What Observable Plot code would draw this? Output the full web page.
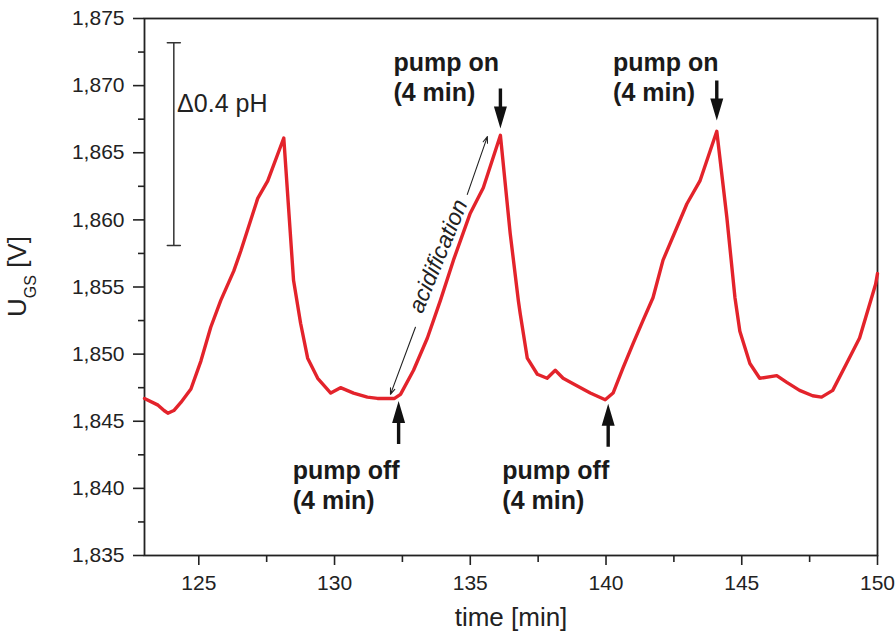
<!DOCTYPE html>
<html><head><meta charset="utf-8">
<script src="https://cdn.jsdelivr.net/npm/d3@7"></script>
<script src="https://cdn.jsdelivr.net/npm/@observablehq/plot@0.6"></script>
<style>
body{margin:0;background:#fff;}
#chart svg{display:block;}
</style></head><body><div id="chart"></div>
<script>
// measured signal
const time = [123.00,123.50,123.72,123.86,124.08,124.34,124.71,125.08,125.44,125.81,126.29,126.55,127.17,127.54,128.13,128.49,128.75,129.01,129.38,129.86,130.22,130.70,131.21,131.58,132.06,132.21,132.43,132.91,133.42,133.90,134.38,135.00,135.48,136.11,136.47,136.77,136.84,137.10,137.47,137.83,138.13,138.42,138.79,139.42,139.97,140.26,140.63,141.00,141.36,141.73,142.10,142.98,143.46,144.08,144.45,144.75,144.93,145.30,145.66,146.29,146.66,147.13,147.61,147.94,148.35,148.86,149.34,149.93,150.00];
const ugs = [1.8467,1.8462,1.8458,1.8456,1.8458,1.8464,1.8474,1.8495,1.8520,1.8540,1.8562,1.8577,1.8616,1.8629,1.8661,1.8555,1.8523,1.8497,1.8482,1.8471,1.8475,1.8471,1.8468,1.8467,1.8467,1.8467,1.8470,1.8488,1.8512,1.8540,1.8570,1.8605,1.8624,1.8663,1.8590,1.8540,1.8530,1.8497,1.8485,1.8482,1.8488,1.8482,1.8478,1.8471,1.8466,1.8471,1.8490,1.8508,1.8525,1.8542,1.8570,1.8612,1.8629,1.8666,1.8602,1.8542,1.8517,1.8493,1.8482,1.8484,1.8479,1.8473,1.8469,1.8468,1.8473,1.8493,1.8512,1.8552,1.8560];

// ticks
const xMajor = [125,130,135,140,145,150];
const xMinor = [127.5,132.5,137.5,142.5,147.5];
const yMajor = [1.835,1.840,1.845,1.850,1.855,1.860,1.865,1.870,1.875];
const yMinor = [1.8375,1.8425,1.8475,1.8525,1.8575,1.8625,1.8675,1.8725];

// annotations
const pumpOnT = [136.11, 144.08];
const pumpOnV = [1.8668, 1.8674];
const pumpOffT = [132.36, 140.08];
const pumpOffV = [1.8465, 1.8463];
const pumpOnLabelT = [132.17, 140.26];
const pumpOnLabelV = [1.8707, 1.8707];
const pumpOffLabelT = [128.46, 136.18];
const pumpOffLabelV = [1.8403, 1.8403];
const pumpOnText = ["pump on\n(4 min)", "pump on\n(4 min)"];
const pumpOffText = ["pump off\n(4 min)", "pump off\n(4 min)"];
const scaleBarT = [124.08, 124.08];
const scaleBarV = [1.8581, 1.8732];
const scaleLabel = ["Δ0.4 pH"];
const scaleLabelT = [124.2];
const scaleLabelV = [1.8686];
const acidX1 = [132.98, 134.89], acidY1 = [1.8520, 1.8619];
const acidX2 = [132.06, 135.63], acidY2 = [1.8470, 1.8662];
const acidLabel = ["acidification"];
const acidLabelT = [133.82], acidLabelV = [1.8573];

const data = time.map((t, i) => ({t, v: ugs[i]}));
const fmt = d => d3.format(".3f")(d).replace(".", ",");

const blockArrow = {draw(ctx, l) {
  const hw = 6.5, hl = 22, sw = 1.7;
  ctx.moveTo(-sw, 0); ctx.lineTo(-sw, -l + hl); ctx.lineTo(-hw, -l + hl);
  ctx.lineTo(0, -l); ctx.lineTo(hw, -l + hl); ctx.lineTo(sw, -l + hl);
  ctx.lineTo(sw, 0); ctx.closePath();
}};
const capLine = {draw(ctx, l) { ctx.moveTo(0, 0); ctx.lineTo(0, -l); }};

const chart = Plot.plot({
  width: 895, height: 641,
  marginLeft: 144, marginRight: 18, marginTop: 18, marginBottom: 86,
  x: {domain: [123, 150]},
  y: {domain: [1.835, 1.875]},
  style: {fontFamily: "'Liberation Sans', Arial, sans-serif", fontSize: "21px", color: "#222", background: "#fff"},
  marks: [
    Plot.axisX(xMajor, {tickSize: 10, tickPadding: 10, tickFormat: d => String(d), fontSize: 21, label: null, strokeWidth: 1.6}),
    Plot.axisX(xMinor, {tickSize: 7, tickFormat: () => "", label: null, strokeWidth: 1.6}),
    Plot.axisY(yMajor, {tickSize: 11, tickPadding: 9, tickFormat: fmt, fontSize: 21, label: null, strokeWidth: 1.6}),
    Plot.axisY(yMinor, {tickSize: 6, tickFormat: () => "", label: null, strokeWidth: 1.6}),
    Plot.frame({stroke: "#222", strokeWidth: 1.8}),
    Plot.line(data, {x: "t", y: "v", stroke: "#e3232b", strokeWidth: 3.4, curve: "linear"}),
    // scale bar
    Plot.ruleX([scaleBarT[0]], {y1: scaleBarV[0], y2: scaleBarV[1], stroke: "#333", strokeWidth: 1.5}),
    Plot.vector(scaleBarT, {x: scaleBarT, y: scaleBarV, rotate: 90, anchor: "middle", length: 13, shape: capLine, stroke: "#333", strokeWidth: 1.5}),
    Plot.text(scaleLabel, {x: scaleLabelT, y: scaleLabelV, text: d => d, textAnchor: "start", fontSize: 25, fill: "#222"}),
    // pump arrows
    Plot.vector(pumpOnT, {x: pumpOnT, y: pumpOnV, rotate: 180, anchor: "end", length: 40, shape: blockArrow, fill: "#111", stroke: "none"}),
    Plot.vector(pumpOffT, {x: pumpOffT, y: pumpOffV, rotate: 0, anchor: "end", length: 43, shape: blockArrow, fill: "#111", stroke: "none"}),
    Plot.text(pumpOnText, {x: pumpOnLabelT, y: pumpOnLabelV, text: d => d, textAnchor: "start", lineAnchor: "middle", lineHeight: 1.2, fontSize: 25, fontWeight: "bold", fill: "#1a1a1a"}),
    Plot.text(pumpOffText, {x: pumpOffLabelT, y: pumpOffLabelV, text: d => d, textAnchor: "start", lineAnchor: "middle", lineHeight: 1.2, fontSize: 25, fontWeight: "bold", fill: "#1a1a1a"}),
    // acidification
    Plot.arrow(acidX1, {x1: acidX1, y1: acidY1, x2: acidX2, y2: acidY2, stroke: "#222", strokeWidth: 1.1, headLength: 9, headAngle: 40}),
    Plot.text(acidLabel, {x: acidLabelT, y: acidLabelV, text: d => d, rotate: -67.6, fontSize: 23, fontStyle: "italic", fill: "#222"}),
    // x label
    Plot.text(["time [min]"], {frameAnchor: "bottom", dy: 70, text: d => d, fontSize: 26, fill: "#222"})
  ]
});
document.getElementById("chart").appendChild(chart);

// y label with subscript
const svg = d3.select(chart);
const yl = svg.append("text")
  .attr("transform", "translate(26,317) rotate(-90)")
  .attr("text-anchor", "start")
  .attr("font-size", 26)
  .attr("fill", "#222");
yl.append("tspan").text("U");
yl.append("tspan").attr("font-size", 16).attr("dy", 10).text("GS");
yl.append("tspan").attr("dy", -10).text(" [V]");
</script>
</body></html>
